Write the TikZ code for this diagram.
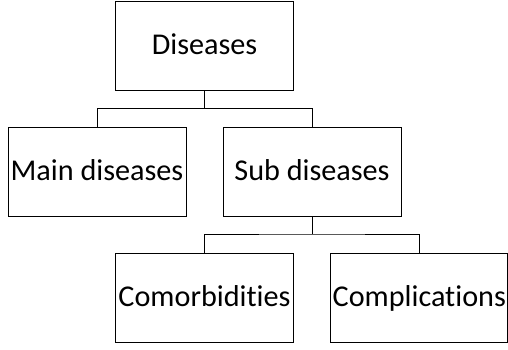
\documentclass[tikz,border=0pt]{standalone}
\usepackage{fontspec}
\setmainfont[RawFeature={-liga;-dlig}]{Carlito}
\begin{document}
\begin{tikzpicture}[x=1pt,y=-1pt,
  box/.style={draw=black,line width=1pt,minimum width=178pt,minimum height=89pt,inner sep=0pt,text height=17pt,text depth=0pt,font=\fontsize{30.2}{32}\selectfont},
  conn/.style={draw=black,line width=1pt}]
\useasboundingbox (0,0) rectangle (508,349);
\node[box] (dis) at (204.5,45.5) {Diseases};
\node[box] (main) at (97,171.5) {Main diseases};
\node[box] (sub) at (312,171.5) {Sub diseases};
\node[box] (com) at (204.5,298) {Comorbidities};
\node[box,minimum width=177pt] (cpl) at (419.3,298) {Complications};
\coordinate (j1) at (204.5,108.5);
\coordinate (j2) at (312,234);
\draw[conn] (dis.south) -- (j1);
\draw[conn] (main.north) |- (j1) -| (sub.north);
\draw[conn] (sub.south) -- (j2);
\draw[conn] (com.north) |- (j2) -| (cpl.north);
\end{tikzpicture}
\end{document}
